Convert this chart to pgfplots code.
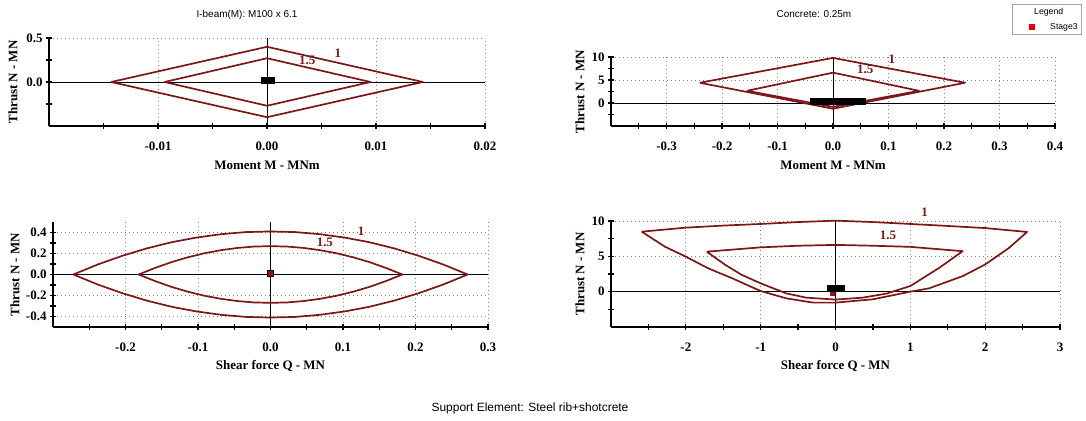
\documentclass[border=0pt]{standalone}
\usepackage{fontspec}
\setmainfont{Liberation Serif}
\newfontfamily\arial{Liberation Sans}
\usepackage{pgfplots}
\pgfplotsset{compat=1.18}
\definecolor{curve}{RGB}{125,22,22}
\definecolor{mk}{RGB}{150,20,20}
\definecolor{legred}{RGB}{230,0,0}
\tikzset{
  lbl/.style={font=\bfseries\fontsize{13pt}{13pt}\selectfont, text=curve},
  zl/.style={black, line width=0.8bp},
}
\pgfplotsset{
  panel/.style={
    scale only axis,
    axis x line*=bottom, axis y line*=left,
    axis line style={line width=1.6bp, black, -},
    tick style={black, line width=1.2bp},
    major tick length=6bp, minor tick length=6bp,
    tick align=center,
    scaled x ticks=false, scaled y ticks=false,
    xmajorgrids, ymajorgrids,
    major grid style={gray, line width=0.9bp, dash pattern=on 1bp off 3bp},
    ticklabel style={font=\bfseries\fontsize{13pt}{13pt}\selectfont},
    label style={font=\bfseries\fontsize{13pt}{13pt}\selectfont},
    xticklabel style={anchor=center, yshift=-17bp},
    yticklabel style={anchor=east},
    xlabel style={at={(axis description cs:0.5,0)}, anchor=center, yshift=-39bp},
    title style={font=\arial\fontsize{10pt}{12pt}\selectfont, at={(axis description cs:0.5,1)}, anchor=center},
    clip=false,
  },
  cv/.style={color=curve, line width=1.7bp, line join=round},
  mks/.style={only marks, mark=square*, mark size=3bp, mark options={draw=black, fill=mk, line width=1.2bp}},
  mkb/.style={only marks, mark=square*, mark size=3bp, mark options={draw=black, fill=black, line width=1bp}},
}
\begin{document}
\begin{tikzpicture}
\path[use as bounding box] (0,0) rectangle (1086bp,421bp);

% ---------- Panel 1 ----------
\begin{axis}[panel, at={(49bp,295bp)}, anchor=south west, width=436bp, height=88bp,
  xmin=-0.02, xmax=0.02, ymin=-0.5, ymax=0.5,
  xtick={-0.01,0,0.01,0.02}, xticklabels={-0.01,0.00,0.01,0.02},
  minor xtick={-0.015,-0.005,0.005,0.015},
  ytick={0,0.5}, yticklabels={0.0,0.5}, minor ytick={-0.25,0.25},
  xlabel={Moment M - MNm}, ylabel={Thrust N - MN},
  ylabel style={at={(axis description cs:-0.0826,0.5)}, anchor=center},
  title={I-beam(M): M100 x 6.1}, title style={xshift=-20bp, yshift=17bp}]
\draw[zl] (axis cs:-0.02,0) -- (axis cs:0.02,0);
\draw[zl] (axis cs:0,-0.5) -- (axis cs:0,0.5);
\addplot[cv] coordinates {(-0.0143,0) (0,0.40) (0.0143,0) (0,-0.40) (-0.0143,0)};
\addplot[cv] coordinates {(-0.0094,0) (0,0.27) (0.0095,0) (0,-0.27) (-0.0094,0)};
\node[lbl] at (axis cs:0.0065,0.33) {1};
\node[lbl] at (axis cs:0.0037,0.25) {1.5};
\addplot[mkb] coordinates {(-0.0002,0.015) (0.0004,0.015)};
\end{axis}

% ---------- Panel 2 ----------
\begin{axis}[panel, at={(611bp,295bp)}, anchor=south west, width=444bp, height=69bp,
  xmin=-0.4, xmax=0.4, ymin=-5, ymax=10,
  xtick={-0.3,-0.2,-0.1,0,0.1,0.2,0.3,0.4},
  xticklabels={-0.3,-0.2,-0.1,0.0,0.1,0.2,0.3,0.4},
  minor xtick={-0.35,-0.25,-0.15,-0.05,0.05,0.15,0.25,0.35},
  ytick={0,5,10}, yticklabels={0,5,10}, minor ytick={-2.5,2.5,7.5},
  xlabel={Moment M - MNm}, ylabel={Thrust N - MN},
  ylabel style={at={(axis description cs:-0.0698,0.5)}, anchor=center},
  title={Concrete: 0.25m}, title style={xshift=-19bp, yshift=37bp},
  legend style={at={(axis description cs:0.903,1.768)}, anchor=north west,
    draw=gray!70, line width=0.6bp, fill=white,
    font=\arial\fontsize{8.7pt}{10pt}\selectfont, inner sep=2bp, row sep=3bp},
  legend cell align=left]
\addlegendimage{empty legend}
\addlegendentry{\hspace{-2bp}Legend}
\addlegendimage{only marks, mark=square*, mark size=2.5bp, mark options={draw=legred, fill=legred, xshift=9bp}}
\addlegendentry{\hspace{14bp}Stage3\hspace{14bp}}
\draw[zl] (axis cs:-0.4,0) -- (axis cs:0.4,0);
\draw[zl] (axis cs:0,-5) -- (axis cs:0,10);
\addplot[cv] coordinates {(-0.24,4.4) (0,9.8) (0.238,4.4) (0,-1.25) (-0.24,4.4)};
\addplot[cv] coordinates {(-0.155,2.65) (0,6.6) (0.155,2.65) (0,-0.85) (-0.155,2.65)};
\node[lbl] at (axis cs:0.106,9.56) {1};
\node[lbl] at (axis cs:0.058,7.35) {1.5};
\addplot[mkb] coordinates {(-0.036,0.4) (-0.027,0.4) (-0.018,0.4) (-0.009,0.4) (0,0.4) (0.009,0.4) (0.018,0.4) (0.027,0.4) (0.036,0.4) (0.045,0.4) (0.053,0.4)};
\end{axis}

% ---------- Panel 3 ----------
\begin{axis}[panel, at={(53bp,94bp)}, anchor=south west, width=435bp, height=105bp,
  xmin=-0.3, xmax=0.3, ymin=-0.5, ymax=0.5,
  xtick={-0.2,-0.1,0,0.1,0.2,0.3}, xticklabels={-0.2,-0.1,0.0,0.1,0.2,0.3},
  minor xtick={-0.25,-0.15,-0.05,0.05,0.15,0.25},
  ytick={-0.4,-0.2,0,0.2,0.4}, yticklabels={-0.4,-0.2,0.0,0.2,0.4},
  minor ytick={-0.3,-0.1,0.1,0.3},
  xlabel={Shear force Q - MN}, ylabel={Thrust N - MN},
  ylabel style={at={(axis description cs:-0.0874,0.5)}, anchor=center}]
\draw[zl] (axis cs:-0.3,0) -- (axis cs:0.3,0);
\draw[zl] (axis cs:0,-0.5) -- (axis cs:0,0.5);
\addplot[cv] coordinates {(-0.272,0) (-0.238,0.096) (-0.204,0.179) (-0.170,0.250) (-0.136,0.308) (-0.102,0.352) (-0.068,0.384) (-0.034,0.404) (0,0.41) (0.034,0.404) (0.068,0.384) (0.102,0.352) (0.136,0.308) (0.170,0.250) (0.204,0.179) (0.238,0.096) (0.272,0)
 (0.238,-0.096) (0.204,-0.179) (0.170,-0.250) (0.136,-0.308) (0.102,-0.352) (0.068,-0.384) (0.034,-0.404) (0,-0.41) (-0.034,-0.404) (-0.068,-0.384) (-0.102,-0.352) (-0.136,-0.308) (-0.170,-0.250) (-0.204,-0.179) (-0.238,-0.096) (-0.272,0)};
\addplot[cv] coordinates {(-0.182,0) (-0.159,0.063) (-0.1365,0.118) (-0.114,0.164) (-0.091,0.2025) (-0.068,0.232) (-0.0455,0.253) (-0.023,0.266) (0,0.27) (0.023,0.266) (0.0455,0.253) (0.068,0.232) (0.091,0.2025) (0.114,0.164) (0.1365,0.118) (0.159,0.063) (0.182,0)
 (0.159,-0.063) (0.1365,-0.118) (0.114,-0.164) (0.091,-0.2025) (0.068,-0.232) (0.0455,-0.253) (0.023,-0.266) (0,-0.27) (-0.023,-0.266) (-0.0455,-0.253) (-0.068,-0.232) (-0.091,-0.2025) (-0.114,-0.164) (-0.1365,-0.118) (-0.159,-0.063) (-0.182,0)};
\node[lbl] at (axis cs:0.125,0.408) {1};
\node[lbl] at (axis cs:0.075,0.305) {1.5};
\addplot[mks] coordinates {(0,0.01)};
\end{axis}

% ---------- Panel 4 ----------
\begin{axis}[panel, at={(611bp,94bp)}, anchor=south west, width=449bp, height=106bp,
  xmin=-3, xmax=3, ymin=-5, ymax=10,
  xtick={-2,-1,0,1,2,3}, xticklabels={-2,-1,0,1,2,3},
  minor xtick={-2.5,-1.5,-0.5,0.5,1.5,2.5},
  ytick={0,5,10}, yticklabels={0,5,10}, minor ytick={-2.5,2.5,7.5},
  xlabel={Shear force Q - MN}, ylabel={Thrust N - MN},
  ylabel style={at={(axis description cs:-0.069,0.5)}, anchor=center}]
\draw[zl] (axis cs:-3,0) -- (axis cs:3,0);
\draw[zl] (axis cs:0,-5) -- (axis cs:0,10);
\addplot[cv] coordinates {(-2.59,8.49) (-2.0,9.06) (-1.5,9.35) (-1.0,9.58) (-0.5,9.85) (0,10.05) (0.5,9.85) (1.0,9.58) (1.5,9.3) (2.0,9.0) (2.56,8.45)
 (2.32,6.2) (2.0,3.85) (1.70,2.2) (1.25,0.47) (1.0,0.0) (0.5,-1.08) (0,-1.55) (-0.3,-1.55) (-0.66,-0.94) (-1.0,0.09) (-1.38,1.89) (-1.70,3.3) (-2.0,4.95) (-2.28,6.37) (-2.59,8.49)};
\addplot[cv] coordinates {(-1.72,5.66) (-1.0,6.27) (-0.5,6.5) (0,6.62) (0.5,6.5) (1.0,6.34) (1.70,5.73)
 (1.39,3.4) (1.0,0.8) (0.68,-0.28) (0.36,-0.85) (0,-1.12) (-0.39,-0.85) (-0.66,-0.24) (-1.0,1.18) (-1.25,2.36) (-1.47,3.77) (-1.72,5.66)};
\node[lbl] at (axis cs:1.19,11.27) {1};
\node[lbl] at (axis cs:0.70,7.98) {1.5};
\addplot[only marks, mark=square*, mark size=2bp, mark options={draw=mk, fill=mk}] coordinates {(-0.04,-0.25)};
\addplot[mkb] coordinates {(-0.07,0.43) (-0.03,0.43) (0.01,0.43) (0.05,0.43) (0.08,0.43)};
\end{axis}

\node[font=\arial\fontsize{12pt}{14pt}\selectfont] at (530bp,13bp) {Support Element: Steel rib+shotcrete};
\end{tikzpicture}
\end{document}
